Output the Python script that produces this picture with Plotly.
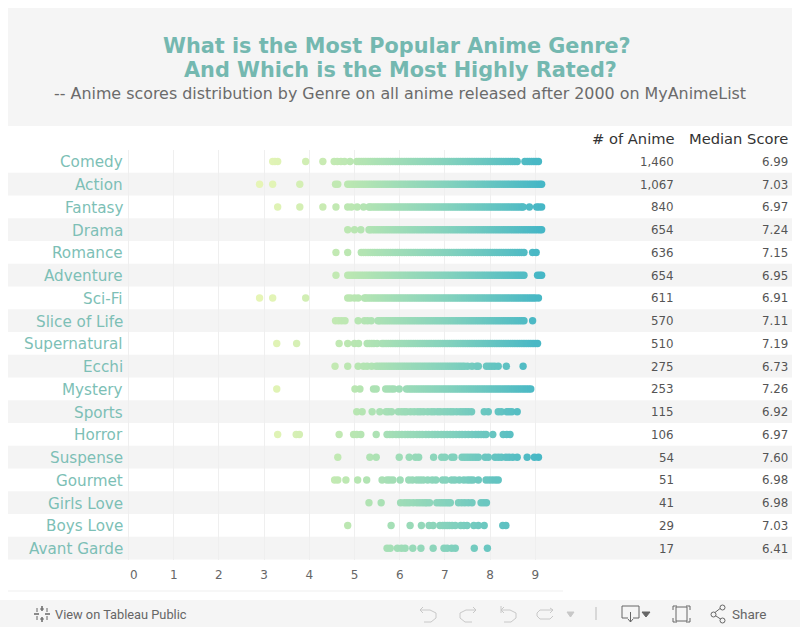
import plotly.graph_objects as go

genres = ["Comedy", "Action", "Fantasy", "Drama", "Romance", "Adventure", "Sci-Fi", "Slice of Life",
          "Supernatural", "Ecchi", "Mystery", "Sports", "Horror", "Suspense", "Gourmet", "Girls Love",
          "Boys Love", "Avant Garde"]
anime_counts = ["1,460", "1,067", "840", "654", "636", "654", "611", "570", "510", "275", "253", "115",
                "106", "54", "51", "41", "29", "17"]
median_scores = ["6.99", "7.03", "6.97", "7.24", "7.15", "6.95", "6.91", "7.11", "7.19", "6.73", "7.26",
                 "6.92", "6.97", "7.60", "6.98", "6.98", "7.03", "6.41"]
x_ticks = [0, 1, 2, 3, 4, 5, 6, 7, 8, 9]

comedy = [3.19, 3.24, 3.3, 3.92, 4.3, 4.55, 4.62, 4.7, 4.78, 4.9,
          5.05, 5.1, 5.15, 5.2, 5.25, 5.3, 5.35, 5.4, 5.45, 5.5, 5.55, 5.6, 5.65, 5.7, 5.75, 5.8, 5.85, 5.9, 5.95, 6.0,
          6.05, 6.1, 6.15, 6.2, 6.25, 6.3, 6.35, 6.4, 6.45, 6.5, 6.55, 6.6, 6.65, 6.7, 6.75, 6.8, 6.85, 6.9, 6.95, 7.0,
          7.05, 7.1, 7.15, 7.2, 7.25, 7.3, 7.35, 7.4, 7.45, 7.5, 7.55, 7.6, 7.65, 7.7, 7.75, 7.8, 7.85, 7.9, 7.95, 8.0,
          8.05, 8.1, 8.15, 8.2, 8.25, 8.3, 8.35, 8.4, 8.45, 8.5, 8.55, 8.6, 8.77, 8.82, 8.87, 8.92, 8.97, 9.02, 9.07]
action = [2.9, 3.19, 3.79, 4.58, 4.63, 4.85, 4.9, 4.95, 5.0,
          5.05, 5.1, 5.15, 5.2, 5.25, 5.3, 5.35, 5.4, 5.45, 5.5, 5.55, 5.6, 5.65, 5.7, 5.75, 5.8, 5.85, 5.9, 5.95, 6.0,
          6.05, 6.1, 6.15, 6.2, 6.25, 6.3, 6.35, 6.4, 6.45, 6.5, 6.55, 6.6, 6.65, 6.7, 6.75, 6.8, 6.85, 6.9, 6.95, 7.0,
          7.05, 7.1, 7.15, 7.2, 7.25, 7.3, 7.35, 7.4, 7.45, 7.5, 7.55, 7.6, 7.65, 7.7, 7.75, 7.8, 7.85, 7.9, 7.95, 8.0,
          8.05, 8.1, 8.15, 8.2, 8.25, 8.3, 8.35, 8.4, 8.45, 8.5, 8.55, 8.6, 8.65, 8.7, 8.75, 8.8, 8.85, 8.9, 8.95, 9.0,
          9.05, 9.1, 9.14]
fantasy = [3.3, 3.79, 4.3, 4.59, 4.85, 4.93, 5.06, 5.2, 5.32, 5.35, 5.4, 5.45, 5.5, 5.55, 5.6, 5.65, 5.7, 5.75, 5.8,
           5.85, 5.9, 5.95, 6.0, 6.05, 6.1, 6.15, 6.2, 6.25, 6.3, 6.35, 6.4, 6.45, 6.5, 6.55, 6.6, 6.65, 6.7, 6.75, 6.8,
           6.85, 6.9, 6.95, 7.0, 7.05, 7.1, 7.15, 7.2, 7.25, 7.3, 7.35, 7.4, 7.45, 7.5, 7.55, 7.6, 7.65, 7.7, 7.75, 7.8,
           7.85, 7.9, 7.95, 8.0, 8.05, 8.1, 8.15, 8.2, 8.25, 8.3, 8.35, 8.4, 8.45, 8.5, 8.55, 8.6, 8.65, 8.7, 8.73,
           8.87, 9.03, 9.08, 9.14]
drama = [4.85, 5.0, 5.14, 5.32, 5.35, 5.4, 5.45, 5.5, 5.55, 5.6, 5.65, 5.7, 5.75, 5.8, 5.85, 5.9, 5.95, 6.0,
         6.05, 6.1, 6.15, 6.2, 6.25, 6.3, 6.35, 6.4, 6.45, 6.5, 6.55, 6.6, 6.65, 6.7, 6.75, 6.8, 6.85, 6.9, 6.95, 7.0,
         7.05, 7.1, 7.15, 7.2, 7.25, 7.3, 7.35, 7.4, 7.45, 7.5, 7.55, 7.6, 7.65, 7.7, 7.75, 7.8, 7.85, 7.9, 7.95, 8.0,
         8.05, 8.1, 8.15, 8.2, 8.25, 8.3, 8.35, 8.4, 8.45, 8.5, 8.55, 8.6, 8.65, 8.7, 8.75, 8.8, 8.85, 8.9, 8.95, 9.0,
         9.05, 9.1, 9.14]
romance = [4.59, 4.85, 5.15, 5.2, 5.25, 5.3, 5.35, 5.4, 5.45, 5.5, 5.55, 5.6, 5.65, 5.7, 5.75, 5.8, 5.85, 5.9, 5.95, 6.0,
           6.05, 6.1, 6.15, 6.2, 6.25, 6.3, 6.35, 6.4, 6.45, 6.5, 6.55, 6.6, 6.65, 6.7, 6.75, 6.8, 6.85, 6.9, 6.95, 7.0,
           7.05, 7.1, 7.15, 7.2, 7.25, 7.3, 7.35, 7.4, 7.45, 7.5, 7.55, 7.6, 7.65, 7.7, 7.75, 7.8, 7.85, 7.9, 7.95, 8.0,
           8.05, 8.1, 8.15, 8.2, 8.25, 8.3, 8.35, 8.4, 8.45, 8.5, 8.55, 8.6, 8.65, 8.7, 8.75, 8.94, 9.02]
adventure = [4.59, 4.85, 4.9, 4.95, 5.0, 5.05, 5.1, 5.15, 5.2, 5.25, 5.3, 5.35, 5.4, 5.45, 5.5, 5.55, 5.6, 5.65, 5.7,
             5.75, 5.8, 5.85, 5.9, 5.95, 6.0, 6.05, 6.1, 6.15, 6.2, 6.25, 6.3, 6.35, 6.4, 6.45, 6.5, 6.55, 6.6, 6.65,
             6.7, 6.75, 6.8, 6.85, 6.9, 6.95, 7.0, 7.05, 7.1, 7.15, 7.2, 7.25, 7.3, 7.35, 7.4, 7.45, 7.5, 7.55, 7.6,
             7.65, 7.7, 7.75, 7.8, 7.85, 7.9, 7.95, 8.0, 8.05, 8.1, 8.15, 8.2, 8.25, 8.3, 8.35, 8.4, 8.45, 8.5, 8.55,
             8.6, 8.65, 8.7, 8.75, 9.05, 9.1, 9.14]
scifi = [2.9, 3.19, 3.92, 4.85, 4.91, 5.0, 5.08, 5.22, 5.25, 5.3, 5.35, 5.4, 5.45, 5.5, 5.55, 5.6, 5.65, 5.7, 5.75, 5.8,
         5.85, 5.9, 5.95, 6.0, 6.05, 6.1, 6.15, 6.2, 6.25, 6.3, 6.35, 6.4, 6.45, 6.5, 6.55, 6.6, 6.65, 6.7, 6.75, 6.8,
         6.85, 6.9, 6.95, 7.0, 7.05, 7.1, 7.15, 7.2, 7.25, 7.3, 7.35, 7.4, 7.45, 7.5, 7.55, 7.6, 7.65, 7.7, 7.75, 7.8,
         7.85, 7.9, 7.95, 8.0, 8.05, 8.1, 8.15, 8.2, 8.25, 8.3, 8.35, 8.4, 8.45, 8.5, 8.55, 8.6, 8.65, 8.7, 8.75, 8.8,
         8.85, 8.9, 8.95, 9.0, 9.07]
slice_of_life = [4.58, 4.65, 4.72, 4.79, 5.08, 5.22, 5.29, 5.37, 5.52, 5.55, 5.6, 5.65, 5.7, 5.75, 5.8, 5.85, 5.9, 5.95,
                 6.0, 6.05, 6.1, 6.15, 6.2, 6.25, 6.3, 6.35, 6.4, 6.45, 6.5, 6.55, 6.6, 6.65, 6.7, 6.75, 6.8, 6.85,
                 6.9, 6.95, 7.0, 7.05, 7.1, 7.15, 7.2, 7.25, 7.3, 7.35, 7.4, 7.45, 7.5, 7.55, 7.6, 7.65, 7.7, 7.75,
                 7.8, 7.85, 7.9, 7.95, 8.0, 8.05, 8.1, 8.15, 8.2, 8.25, 8.3, 8.35, 8.4, 8.45, 8.5, 8.55, 8.6, 8.65,
                 8.7, 8.75, 8.94]
supernatural = [3.28, 3.72, 4.66, 4.85, 5.0, 5.09, 5.28, 5.33, 5.38, 5.43, 5.5, 5.61, 5.65, 5.7, 5.75, 5.8, 5.85, 5.9,
                5.95, 6.0, 6.05, 6.1, 6.15, 6.2, 6.25, 6.3, 6.35, 6.4, 6.45, 6.5, 6.55, 6.6, 6.65, 6.7, 6.75, 6.8,
                6.85, 6.9, 6.95, 7.0, 7.05, 7.1, 7.15, 7.2, 7.25, 7.3, 7.35, 7.4, 7.45, 7.5, 7.55, 7.6, 7.65, 7.7,
                7.75, 7.8, 7.85, 7.9, 7.95, 8.0, 8.05, 8.1, 8.15, 8.2, 8.25, 8.3, 8.35, 8.4, 8.45, 8.5, 8.55, 8.6,
                8.65, 8.7, 8.75, 8.8, 8.85, 8.9, 8.95, 9.0, 9.05]
ecchi = [4.57, 4.85, 5.08, 5.2, 5.28, 5.38, 5.48, 5.53, 5.58, 5.63, 5.68, 5.73, 5.78, 5.83,
         5.88, 5.93, 5.98, 6.03, 6.08, 6.13, 6.18, 6.23, 6.28, 6.33, 6.38, 6.43, 6.48, 6.53, 6.58, 6.63, 6.68, 6.73,
         6.78, 6.83, 6.88, 6.93, 6.98, 7.03, 7.08, 7.13, 7.18, 7.23, 7.28, 7.33, 7.38, 7.43, 7.5, 7.6, 7.7, 7.74,
         7.92, 7.98, 8.04, 8.1, 8.18, 8.36, 8.73]
mystery = [3.28, 5.01, 5.12, 5.42, 5.48, 5.69, 5.75, 5.81, 5.87, 5.99, 6.15, 6.2, 6.25, 6.3, 6.35, 6.4, 6.45, 6.5, 6.55,
           6.6, 6.65, 6.7, 6.75, 6.8, 6.85, 6.9, 6.95, 7.0, 7.05, 7.1, 7.15, 7.2, 7.25, 7.3, 7.35, 7.4, 7.45, 7.5,
           7.55, 7.6, 7.65, 7.7, 7.75, 7.8, 7.85, 7.9, 7.95, 8.0, 8.05, 8.1, 8.15, 8.2, 8.25, 8.3, 8.35, 8.4, 8.45,
           8.5, 8.55, 8.6, 8.65, 8.7, 8.75, 8.8, 8.85, 8.9]
sports = [5.05, 5.17, 5.39, 5.56, 5.7, 5.75, 5.82, 5.97, 6.04, 6.1, 6.15, 6.24, 6.32, 6.4, 6.46, 6.53,
          6.62, 6.7, 6.76, 6.84, 6.9, 6.98, 7.05, 7.12, 7.18, 7.26, 7.34, 7.4, 7.46, 7.52, 7.59,
          7.87, 7.96, 8.18, 8.25, 8.37, 8.42, 8.48, 8.6]
horror = [3.3, 3.71, 3.78, 4.66, 4.98, 5.05, 5.14, 5.48, 5.72, 5.78, 5.84, 5.92, 5.98, 6.05, 6.12, 6.18, 6.24, 6.3, 6.38,
          6.44, 6.5, 6.58, 6.64, 6.72, 6.78, 6.84, 6.92, 6.98, 7.05, 7.12, 7.18, 7.25, 7.32, 7.38, 7.45, 7.52, 7.6,
          7.68, 7.74, 7.8, 7.86, 7.91, 8.06, 8.29, 8.37, 8.44]
suspense = [4.63, 5.34, 5.48, 5.99, 6.21, 6.35, 6.42, 6.75, 6.93, 7.0, 7.15, 7.2, 7.38, 7.44, 7.5, 7.56, 7.62, 7.68, 7.74,
            7.89, 7.96, 8.11, 8.18, 8.25, 8.35, 8.42, 8.5, 8.6, 8.82, 8.98, 9.07]
gourmet = [4.56, 4.63, 4.81, 5.07, 5.27, 5.61, 5.72, 5.78, 5.85, 6.01, 6.2, 6.28, 6.38, 6.45, 6.52, 6.62, 6.72, 6.8,
           6.95, 7.02, 7.15, 7.22, 7.32, 7.42, 7.5, 7.56, 7.62, 7.74, 7.91, 7.98, 8.05, 8.12, 8.18]
girls_love = [5.32, 5.59, 6.02, 6.1, 6.16, 6.22, 6.3, 6.38, 6.44, 6.5, 6.56, 6.6, 6.66, 6.82, 6.88, 6.93, 6.98, 7.03,
              7.08, 7.12, 7.3, 7.37, 7.44, 7.52, 7.6, 7.8, 7.86, 7.92]
boys_love = [4.85, 5.81, 6.23, 6.48, 6.65, 6.74, 6.89, 6.95, 7.0, 7.05, 7.1, 7.16, 7.23, 7.35, 7.42, 7.49, 7.64, 7.74,
             7.87, 8.28, 8.35]
avant_garde = [5.72, 5.79, 5.95, 6.04, 6.12, 6.29, 6.47, 6.74, 6.98, 7.05, 7.15, 7.23, 7.65, 7.94]

series = [comedy, action, fantasy, drama, romance, adventure, scifi, slice_of_life, supernatural, ecchi, mystery,
          sports, horror, suspense, gourmet, girls_love, boys_love, avant_garde]

W, H = 800, 627
TOP, BOT = 150.1, 559.6
LEFT, RIGHT = 128.5, 563.0
PPU = 45.2
FONT = "DejaVu Sans"
row_h = (BOT - TOP) / len(genres)


def px(x):
    return x / W


def py(y):
    return 1 - y / H


def rect(x0, y0, x1, y1, fill):
    return dict(type="rect", xref="paper", yref="paper", x0=px(x0), x1=px(x1), y0=py(y0), y1=py(y1),
                fillcolor=fill, line_width=0, layer="below")


def seg(x0, y0, x1, y1, color, w=1):
    return dict(type="line", xref="paper", yref="paper", x0=px(x0), x1=px(x1), y0=py(y0), y1=py(y1),
                line=dict(color=color, width=w), layer="below")


def text(x, y, s, size, color, anchor="center", bold=False, family=FONT):
    return dict(xref="paper", yref="paper", x=px(x), y=py(y), text=f"<b>{s}</b>" if bold else s, showarrow=False,
                xanchor=anchor, yanchor="middle", font=dict(size=size, color=color, family=family),
                xshift=0, yshift=0, align=anchor)


def curve(path_pts, color, w=1, fill=None):
    d = "M " + " L ".join(f"{px(a)},{py(b)}" for a, b in path_pts)
    out = dict(type="path", xref="paper", yref="paper", path=d, line=dict(color=color, width=w), layer="above")
    if fill:
        out["fillcolor"] = fill
    return out


fig = go.Figure()
scale = [[0, "#e6f5b6"], [0.33, "#b8e6b2"], [0.66, "#84d2bd"], [1, "#44b6c6"]]
for i, (name, vals) in enumerate(zip(genres, series)):
    fig.add_trace(go.Scatter(x=vals, y=[i] * len(vals), mode="markers", name=name, showlegend=False,
                             marker=dict(size=7.4, color=vals, colorscale=scale, cmin=3, cmax=9.2, opacity=1,
                                         line_width=0)))

shapes = [rect(8, 8, 792, 126, "#f5f5f5"), rect(0, 600, 800, 627, "#f5f5f5")]
for i in range(1, len(genres), 2):
    shapes.append(rect(8, TOP + i * row_h, 792, TOP + (i + 1) * row_h, "#f4f4f4"))
shapes.append(seg(8, 591, 563, 591, "#efefef"))
shapes.append(seg(596, 607, 596, 620, "#bbbbbb"))

DK = "#666666"
LT = "#c8c8c8"
shapes += [
    curve([(423, 607), (420, 610), (423, 613)], LT),
    curve([(420, 610), (430, 610), (436, 613), (436, 618), (431, 622), (424, 622)], LT),
    curve([(473, 607), (476, 610), (473, 613)], LT),
    curve([(476, 610), (466, 610), (460, 613), (460, 618), (465, 622), (472, 622)], LT),
    curve([(501, 606), (501, 613)], LT),
    curve([(504, 607), (501, 610), (504, 613)], LT),
    curve([(501, 610), (510, 610), (516, 613), (516, 618), (511, 622), (504, 622)], LT),
    curve([(550, 608), (553, 610), (550, 613)], LT),
    curve([(553, 610), (540, 610), (537, 613), (537, 616), (540, 619), (550, 619), (553, 616)], LT),
    curve([(567, 612), (574, 612), (570.5, 617), (567, 612)], LT, 1, LT),
    curve([(628, 618), (622, 618), (622, 606), (639, 606), (639, 618), (633, 618)], DK),
    curve([(630.5, 612), (630.5, 622)], DK),
    curve([(628, 619), (630.5, 622), (633, 619)], DK),
    curve([(642, 612), (650, 612), (646, 617), (642, 612)], DK, 1, DK),
    curve([(676, 607), (687, 607), (687, 621), (676, 621), (676, 607)], DK),
    curve([(673, 610), (673, 606), (677, 606)], DK),
    curve([(686, 606), (690, 606), (690, 610)], DK),
    curve([(673, 618), (673, 622), (677, 622)], DK),
    curve([(686, 622), (690, 622), (690, 618)], DK),
    curve([(722, 607), (713, 614), (722, 620)], DK),
    dict(type="circle", xref="paper", yref="paper", x0=px(720), x1=px(725), y0=py(610), y1=py(605),
         line=dict(color=DK, width=1), fillcolor="#f5f5f5"),
    dict(type="circle", xref="paper", yref="paper", x0=px(711), x1=px(716), y0=py(617), y1=py(612),
         line=dict(color=DK, width=1), fillcolor="#f5f5f5"),
    dict(type="circle", xref="paper", yref="paper", x0=px(720), x1=px(725), y0=py(623), y1=py(618),
         line=dict(color=DK, width=1), fillcolor="#f5f5f5"),
    curve([(42, 606), (42, 611)], DK, 1.5), curve([(42, 617), (42, 622)], DK, 1.5),
    curve([(34, 614), (39, 614)], DK, 1.5), curve([(45, 614), (50, 614)], DK, 1.5),
    curve([(37, 608), (37, 612)], DK), curve([(47, 608), (47, 612)], DK),
    curve([(37, 616), (37, 620)], DK), curve([(47, 616), (47, 620)], DK),
    curve([(40, 609), (44, 609)], DK), curve([(40, 619), (44, 619)], DK),
]

TEAL = "#74b8b0"
ann = [
    text(396.5, 46, "What is the Most Popular Anime Genre?", 20.8, TEAL, bold=True),
    text(400, 70, "And Which is the Most Highly Rated?", 20.8, TEAL, bold=True),
    text(400, 93, "-- Anime scores distribution by Genre on all anime released after 2000 on MyAnimeList", 15.9, "#6b6b6b"),
    text(676.5, 138, "# of Anime", 14.7, "#333333", "right"),
    text(790, 138, "Median Score", 14.7, "#333333", "right"),
    text(53, 614, "View on Tableau Public", 12.8, "#666666", "left", family="Roboto"),
    text(730, 614, "Share", 13.5, "#666666", "left", family="Roboto"),
    text(133.5, 574.5, str(x_ticks[0]), 12, "#666666"),
]
for i in range(len(genres)):
    yc = TOP + (i + 0.5) * row_h
    ann.append(text(124.5, yc + 1, genres[i], 15.2, "#7dbfb6", "right"))
    ann.append(text(676, yc + 0.5, anime_counts[i], 11.8, "#555555", "right"))
    ann.append(text(790, yc + 0.5, median_scores[i], 11.8, "#555555", "right"))

fig.update_layout(
    width=W, height=H, margin=dict(l=0, r=0, t=0, b=0), paper_bgcolor="white", plot_bgcolor="rgba(0,0,0,0)",
    shapes=shapes, annotations=ann, font=dict(family=FONT), hovermode=False,
    xaxis=dict(domain=[px(LEFT), px(RIGHT)], range=[0, (RIGHT - LEFT) / PPU], tickvals=x_ticks,
               ticktext=[""] + [str(t) for t in x_ticks[1:]], showgrid=True, gridcolor="#efefef", gridwidth=1,
               zeroline=True, zerolinecolor="#efefef", zerolinewidth=1, showline=False, ticks="",
               ticklabelstandoff=6, tickfont=dict(size=12, color="#666666", family=FONT)),
    yaxis=dict(domain=[py(BOT), py(TOP)], range=[len(genres) - 0.5, -0.5], tickvals=list(range(len(genres))),
               showticklabels=False, showgrid=False, zeroline=False, showline=False, ticks=""),
)

fig.write_html("out.html", config=dict(displayModeBar=False),
               post_script="document.body.style.margin='0';document.body.style.overflow='hidden';")
